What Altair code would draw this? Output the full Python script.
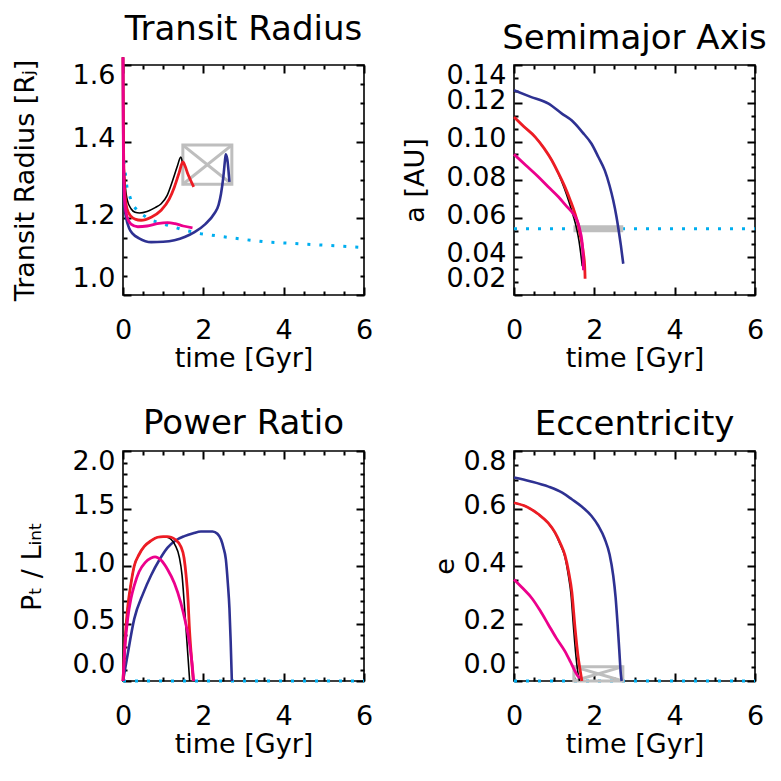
import altair as alt
import pandas as pd

FONT = "DejaVu Sans"
NAVY = "#2E3192"
RED = "#ED1C24"
MAGENTA = "#EC008C"
CYAN = "#00AEEF"
BLACK = "#000000"
GRAY = "#BEBEBE"
W, H = 241, 230

# ---------------- Panel 1: Transit Radius ----------------
tr_black_t = [0, 0.01, 0.03, 0.06, 0.1, 0.2, 0.3, 0.41, 0.6, 0.8, 0.95, 1.1, 1.24, 1.35, 1.44, 1.48]
tr_black_v = [1.62, 1.45, 1.33, 1.28, 1.25, 1.225, 1.216, 1.214, 1.218, 1.228, 1.238, 1.26, 1.30, 1.335, 1.36, 1.345]
tr_red_t = [0, 0.01, 0.03, 0.06, 0.1, 0.2, 0.3, 0.45, 0.7, 0.95, 1.15, 1.28, 1.4, 1.49, 1.55, 1.61, 1.68, 1.76]
tr_red_v = [1.62, 1.42, 1.30, 1.25, 1.225, 1.205, 1.198, 1.195, 1.203, 1.221, 1.25, 1.282, 1.32, 1.347, 1.335, 1.317, 1.30, 1.282]
tr_mag_t = [0, 0.005, 0.02, 0.05, 0.1, 0.2, 0.37, 0.6, 0.85, 1.11, 1.3, 1.5, 1.73]
tr_mag_v = [1.62, 1.45, 1.30, 1.235, 1.205, 1.185, 1.178, 1.18, 1.186, 1.189, 1.186, 1.18, 1.175]
tr_navy_t = [0, 0.01, 0.03, 0.08, 0.15, 0.24, 0.4, 0.7, 1.0, 1.28, 1.55, 1.78, 2.05, 2.27, 2.38, 2.44, 2.50, 2.54, 2.56, 2.58, 2.60, 2.63, 2.65]
tr_navy_v = [1.62, 1.35, 1.238, 1.20, 1.175, 1.16, 1.148, 1.138, 1.139, 1.143, 1.152, 1.164, 1.185, 1.212, 1.235, 1.264, 1.31, 1.352, 1.367, 1.362, 1.352, 1.32, 1.295]
tr_cyan_t = [0.02, 0.1, 0.2, 0.28, 0.4, 0.7, 1.11, 1.5, 1.94, 3.0, 3.6, 4.5, 5.0, 6.0]
tr_cyan_v = [1.35, 1.28, 1.247, 1.23, 1.215, 1.195, 1.182, 1.17, 1.16, 1.145, 1.138, 1.133, 1.13, 1.124]
tr_box = [1.49, 2.71, 1.289, 1.391]

# ---------------- Panel 2: Semimajor Axis ----------------
sa_navy_t = [0, 0.4, 0.86, 1.2, 1.44, 1.7, 1.93, 2.1, 2.26, 2.38, 2.47, 2.55, 2.60, 2.66, 2.72]
sa_navy_v = [0.1268, 0.1235, 0.1198, 0.1145, 0.111, 0.105, 0.0989, 0.092, 0.085, 0.077, 0.0694, 0.061, 0.0546, 0.046, 0.0363]
sa_red_t = [0, 0.25, 0.53, 0.75, 0.94, 1.1, 1.27, 1.4, 1.52, 1.60, 1.64, 1.69, 1.73, 1.76, 1.77]
sa_red_v = [0.1129, 0.1078, 0.1024, 0.0965, 0.0903, 0.0838, 0.0763, 0.0695, 0.0624, 0.0565, 0.052, 0.047, 0.0415, 0.035, 0.0285]
sa_black_t = [0, 0.25, 0.53, 0.75, 0.94, 1.1, 1.25, 1.37, 1.48, 1.56, 1.62, 1.66, 1.70]
sa_black_v = [0.1129, 0.1078, 0.1024, 0.0965, 0.0903, 0.0835, 0.0758, 0.0685, 0.061, 0.0545, 0.048, 0.042, 0.035]
sa_mag_t = [0, 0.3, 0.61, 0.85, 1.11, 1.3, 1.44, 1.53, 1.60, 1.65, 1.69, 1.72, 1.73]
sa_mag_v = [0.0934, 0.0876, 0.0816, 0.0765, 0.0711, 0.0665, 0.0633, 0.0605, 0.0572, 0.053, 0.0485, 0.04, 0.0329]
sa_cyan_t = [0, 6]
sa_cyan_v = [0.0546, 0.0546]
sa_bar = [1.48, 2.72, 0.0546]

# ---------------- Panel 3: Power Ratio ----------------
pr_mag_t = [0, 0.05, 0.12, 0.2, 0.28, 0.4, 0.55, 0.7, 0.8, 0.95, 1.11, 1.28, 1.44, 1.55, 1.65, 1.72, 1.76]
pr_mag_v = [0, 0.3, 0.55, 0.72, 0.83, 0.95, 1.03, 1.07, 1.08, 1.05, 0.97, 0.85, 0.68, 0.52, 0.34, 0.15, 0]
pr_red_t = [0, 0.05, 0.12, 0.2, 0.28, 0.4, 0.53, 0.7, 0.86, 1.0, 1.1, 1.2, 1.3, 1.44, 1.52, 1.57, 1.62, 1.65, 1.70, 1.75]
pr_red_v = [0, 0.35, 0.65, 0.85, 1.0, 1.1, 1.17, 1.22, 1.25, 1.255, 1.255, 1.25, 1.23, 1.17, 1.07, 0.92, 0.7, 0.48, 0.22, 0]
pr_black_t = [0, 0.05, 0.12, 0.2, 0.28, 0.4, 0.53, 0.7, 0.86, 1.0, 1.1, 1.2, 1.3, 1.4, 1.47, 1.52, 1.57, 1.62, 1.66]
pr_black_v = [0, 0.35, 0.65, 0.85, 1.0, 1.1, 1.17, 1.22, 1.25, 1.255, 1.25, 1.23, 1.18, 1.08, 0.92, 0.7, 0.45, 0.2, 0]
pr_navy_t = [0, 0.1, 0.28, 0.5, 0.7, 0.9, 1.11, 1.3, 1.53, 1.75, 1.94, 2.1, 2.23, 2.35, 2.44, 2.5, 2.56, 2.61, 2.65, 2.68, 2.71]
pr_navy_v = [0, 0.2, 0.54, 0.76, 0.92, 1.05, 1.16, 1.22, 1.26, 1.285, 1.30, 1.30, 1.30, 1.28, 1.23, 1.16, 1.06, 0.85, 0.63, 0.35, 0]
pr_cyan_t = [0, 6]
pr_cyan_v = [0, 0]

# ---------------- Panel 4: Eccentricity ----------------
ec_navy_t = [0, 0.4, 0.86, 1.2, 1.44, 1.7, 1.93, 2.1, 2.26, 2.38, 2.47, 2.53, 2.58, 2.62, 2.66, 2.68]
ec_navy_v = [0.708, 0.695, 0.676, 0.655, 0.632, 0.605, 0.574, 0.54, 0.494, 0.44, 0.367, 0.29, 0.195, 0.11, 0.023, 0]
ec_red_t = [0, 0.3, 0.61, 0.85, 1.02, 1.15, 1.27, 1.36, 1.44, 1.52, 1.60, 1.65, 1.69]
ec_red_v = [0.62, 0.607, 0.58, 0.55, 0.517, 0.48, 0.437, 0.38, 0.31, 0.184, 0.08, 0.035, 0.0]
ec_black_t = [0, 0.3, 0.61, 0.85, 1.02, 1.15, 1.27, 1.35, 1.42, 1.48, 1.54, 1.59, 1.63]
ec_black_v = [0.62, 0.607, 0.58, 0.55, 0.515, 0.475, 0.43, 0.37, 0.3, 0.19, 0.09, 0.03, 0.0]
ec_mag_t = [0, 0.2, 0.45, 0.65, 0.86, 1.05, 1.27, 1.4, 1.52, 1.6, 1.64]
ec_mag_v = [0.353, 0.325, 0.287, 0.245, 0.195, 0.15, 0.103, 0.068, 0.034, 0.015, 0.01]
ec_cyan_t = [0, 6]
ec_cyan_v = [0, 0]
ec_box = [1.49, 2.71, 0.0, 0.05]

# ---------------- axis ticks (major + minor) ----------------
x_ticks = [0, 0.5, 1, 1.5, 2, 2.5, 3, 3.5, 4, 4.5, 5, 5.5, 6]
x_step = 2
tr_ticks = [1.0, 1.05, 1.1, 1.15, 1.2, 1.25, 1.3, 1.35, 1.4, 1.45, 1.5, 1.55, 1.6]
tr_step = 0.2
sa_ticks = [0.02, 0.02667, 0.03333, 0.04, 0.04667, 0.05333, 0.06, 0.06667, 0.07333, 0.08,
            0.08667, 0.09333, 0.10, 0.10667, 0.11333, 0.12, 0.12667, 0.13333, 0.14]
sa_step = 0.02
pr_ticks = [0.0, 0.1, 0.2, 0.3, 0.4, 0.5, 0.6, 0.7, 0.8, 0.9, 1.0, 1.1, 1.2, 1.3, 1.4, 1.5,
            1.6, 1.7, 1.8, 1.9, 2.0]
pr_step = 0.5
ec_ticks = [0.0, 0.05, 0.1, 0.15, 0.2, 0.25, 0.3, 0.35, 0.4, 0.45, 0.5, 0.55, 0.6, 0.65,
            0.7, 0.75, 0.8]
ec_step = 0.2

TICK = 8


def is_major(step):
    return f"abs(datum.value / {step} - round(datum.value / {step})) < 0.001"


def tick_props(step):
    # inward ticks: axis shifted inside by TICK px, ticks reaching back to the frame;
    # minor ticks draw only their outer half (touching the frame)
    return dict(
        ticks=True, tickSize=TICK, offset=-TICK, tickColor=BLACK, tickWidth=2, tickCap="butt",
        tickOpacity=1,
        tickDash={"condition": {"test": is_major(step), "value": [TICK, 0]},
                  "value": [0, TICK / 2, TICK / 2]},
        domain=False, grid=False,
    )


def panel(title, ytitle, ydomain, yticks, ystep, yfmt, ytpad, lines, cyan, extras_before):
    xs = alt.Scale(domain=[0, 6], nice=False, zero=False)
    ys = alt.Scale(domain=ydomain, nice=False, zero=False)
    xa = alt.Axis(values=x_ticks, title="time [Gyr]", orient="bottom", labelFlush=False,
                  labelExpr=f"{is_major(x_step)} ? format(datum.value, 'd') : ''",
                  **tick_props(x_step))
    ya = alt.Axis(values=yticks, title=ytitle, orient="left", labelFlush=True, labelOverlap=False,
                  labelExpr=f"{is_major(ystep)} ? format(datum.value, '{yfmt}') : ''",
                  titlePadding=ytpad, **tick_props(ystep))
    xa_top = alt.Axis(values=x_ticks, title="", orient="top", labels=False, **tick_props(x_step))
    ya_right = alt.Axis(values=yticks, title="", orient="right", labels=False, **tick_props(ystep))

    def X(f, axis=None):
        if axis is None:
            return alt.X(f, type="quantitative", scale=xs, axis=None)
        return alt.X(f, type="quantitative", scale=xs, axis=axis)

    def Y(f, axis=None):
        if axis is None:
            return alt.Y(f, type="quantitative", scale=ys, axis=None)
        return alt.Y(f, type="quantitative", scale=ys, axis=axis)

    layers = []
    ct, cv = cyan
    cdf = pd.DataFrame({"t": ct, "v": cv})
    layers.append(alt.Chart(cdf).mark_line(color=CYAN, strokeWidth=3, strokeDash=[3, 9],
                                           strokeCap="butt").encode(x=X("t", xa), y=Y("v", ya)))
    layers.append(alt.Chart(cdf).mark_line(strokeOpacity=0).encode(
        x=X("t", xa_top), y=Y("v", ya_right)))
    for kind, vals in extras_before:
        if kind == "box":
            t1, t2, v1, v2 = vals
            bdf = pd.DataFrame({"t": [t1], "t2": [t2], "v": [v1], "v2": [v2]})
            layers.append(alt.Chart(bdf).mark_rect(fillOpacity=0, stroke=GRAY, strokeWidth=3).encode(
                x=X("t"), x2="t2", y=Y("v"), y2="v2"))
            ddf = pd.DataFrame({"t": [t1, t1], "t2": [t2, t2], "v": [v1, v2], "v2": [v2, v1]})
            layers.append(alt.Chart(ddf).mark_rule(color=GRAY, strokeWidth=3).encode(
                x=X("t"), x2="t2", y=Y("v"), y2="v2"))
        elif kind == "bar":
            t1, t2, v = vals
            bdf = pd.DataFrame({"t": [t1], "t2": [t2], "v": [v]})
            layers.append(alt.Chart(bdf).mark_rule(color=GRAY, strokeWidth=7).encode(
                x=X("t"), x2="t2", y=Y("v")))
    for (ts, vs, col, sw) in lines:
        ldf = pd.DataFrame({"t": ts, "v": vs, "o": list(range(len(ts)))})
        layers.append(alt.Chart(ldf).mark_line(color=col, strokeWidth=sw, interpolate="monotone").encode(
            x=X("t"), y=Y("v"), order="o:Q"))

    return alt.layer(*layers).resolve_axis(x="independent", y="independent").properties(
        width=W, height=H,
        title=alt.TitleParams(title, fontSize=34, font=FONT, fontWeight="normal", offset=5,
                              anchor="middle", color=BLACK))


p1 = panel("Transit Radius", "Transit Radius [R\u2c7c]", [1.0, 1.6], tr_ticks, tr_step, ".1f", 33,
           [(tr_navy_t, tr_navy_v, NAVY, 2.6), (tr_black_t, tr_black_v, BLACK, 1.6),
            (tr_red_t, tr_red_v, RED, 2.8), (tr_mag_t, tr_mag_v, MAGENTA, 2.8)],
           (tr_cyan_t, tr_cyan_v), [("box", tr_box)])
p2 = panel("Semimajor Axis", "a [AU]", [0.02, 0.14], sa_ticks, sa_step, ".2f", 16,
           [(sa_navy_t, sa_navy_v, NAVY, 2.6), (sa_black_t, sa_black_v, BLACK, 1.6),
            (sa_red_t, sa_red_v, RED, 2.8), (sa_mag_t, sa_mag_v, MAGENTA, 2.8)],
           (sa_cyan_t, sa_cyan_v), [("bar", sa_bar)])
p3 = panel("Power Ratio", "P\u209c / L\u1d62\u2099\u209c", [0.0, 2.0], pr_ticks, pr_step, ".1f", 26,
           [(pr_navy_t, pr_navy_v, NAVY, 2.6), (pr_black_t, pr_black_v, BLACK, 1.6),
            (pr_red_t, pr_red_v, RED, 2.8), (pr_mag_t, pr_mag_v, MAGENTA, 2.8)],
           (pr_cyan_t, pr_cyan_v), [])
p4 = panel("Eccentricity", "e", [0.0, 0.8], ec_ticks, ec_step, ".1f", 4,
           [(ec_navy_t, ec_navy_v, NAVY, 2.6), (ec_black_t, ec_black_v, BLACK, 1.6),
            (ec_red_t, ec_red_v, RED, 2.8), (ec_mag_t, ec_mag_v, MAGENTA, 2.8)],
           (ec_cyan_t, ec_cyan_v), [("box", ec_box)])

chart = alt.concat(p1, p2, p3, p4, columns=2, spacing={"row": 33, "column": 27}).configure_view(
    stroke=BLACK, strokeWidth=1.6
).configure_axis(
    labelFont=FONT, labelFontSize=27, labelColor=BLACK, labelPadding=8,
    titleFont=FONT, titleFontSize=27, titleFontWeight="normal", titleColor=BLACK,
).configure_axisX(labelPadding=22, titlePadding=2).configure_axisY(labelOffset=-3).properties(
    padding={"left": 2, "top": 3, "right": 5, "bottom": 5}, background="white")

chart.save("out.html", embed_options={"renderer": "svg", "actions": False})
